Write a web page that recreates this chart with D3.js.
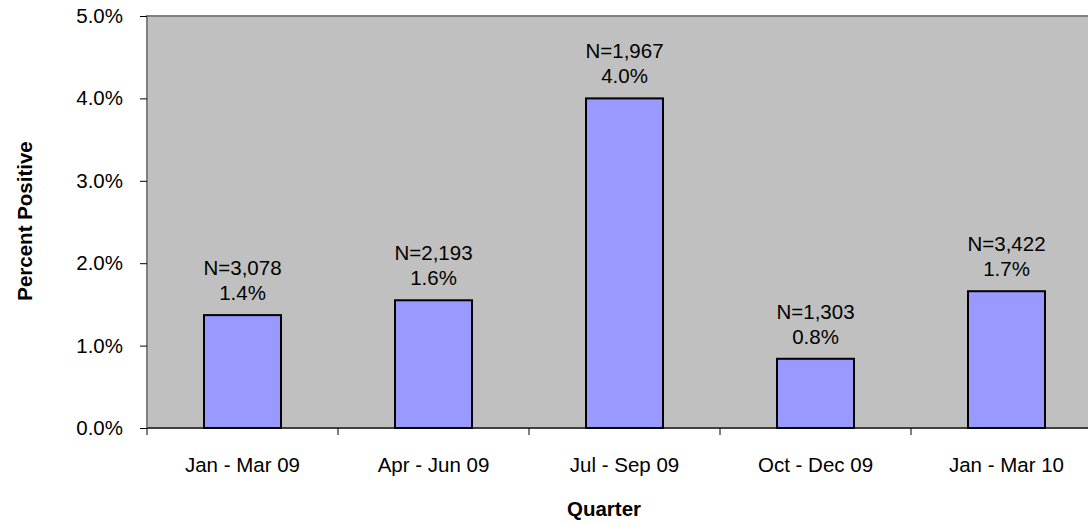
<!DOCTYPE html>
<html>
<head>
  <meta charset="UTF-8">
  <style>
    body { margin: 0; background: #fff; overflow: hidden; }
    text { font-family: "Liberation Sans", Arial, sans-serif; fill: #000; }
  </style>
</head>
<body>
<svg></svg>
<script src="https://d3js.org/d3.v7.min.js"></script>
<script>

    let width = 1088;
    let height = 523;

    // data
    let quarters = ["Jan - Mar 09", "Apr - Jun 09", "Jul - Sep 09", "Oct - Dec 09", "Jan - Mar 10"];
    let percents = [1.37, 1.55, 4.0, 0.84, 1.66];
    let pctLabels = ["1.4%", "1.6%", "4.0%", "0.8%", "1.7%"];
    let counts = ["3,078", "2,193", "1,967", "1,303", "3,422"];
    let yTicks = [0, 1, 2, 3, 4, 5];

    // plot area runs a little past the right edge of the picture
    let plotLeft = 147, plotRight = 1102, plotTop = 16, plotBottom = 428;
    let fs = "20.5px";

    let svg = d3.select("svg")
        .attr("width", width)
        .attr("height", height);

    let x = d3.scaleBand()
        .domain(quarters)
        .range([plotLeft, plotRight]);

    let y = d3.scaleLinear()
        .domain([0, 5])
        .range([plotBottom, plotTop]);

    // plot area
    svg.append("rect")
        .attr("x", plotLeft)
        .attr("y", plotTop)
        .attr("width", plotRight - plotLeft)
        .attr("height", plotBottom - plotTop)
        .attr("fill", "#c0c0c0")
        .attr("stroke", "#808080")
        .attr("stroke-width", 2);

    let barW = 77;
    svg.append("g")
        .selectAll("rect")
        .data(percents)
        .enter()
        .append("rect")
          .attr("x", (d, i) => x(quarters[i]) + x.bandwidth() / 2 - barW / 2)
          .attr("y", d => y(d))
          .attr("width", barW)
          .attr("height", d => y(0) - y(d))
          .attr("fill", "#9999ff")
          .attr("stroke", "#000")
          .attr("stroke-width", 2);

    // data labels
    let lab = svg.append("g")
        .selectAll("g")
        .data(percents)
        .enter()
        .append("g")
        .attr("transform", (d, i) => "translate(" + (x(quarters[i]) + x.bandwidth() / 2) + "," + y(d) + ")");
    lab.append("text")
        .attr("text-anchor", "middle")
        .attr("y", -40)
        .style("font-size", fs)
        .text((d, i) => "N=" + counts[i]);
    lab.append("text")
        .attr("text-anchor", "middle")
        .attr("y", -15)
        .style("font-size", fs)
        .text((d, i) => pctLabels[i]);

    // y axis
    let yAxis = svg.append("g")
        .attr("transform", "translate(" + plotLeft + ",0)")
        .call(d3.axisLeft(y).tickValues(yTicks).tickFormat(d => d.toFixed(1) + "%").tickSize(7).tickPadding(17));
    yAxis.select(".domain").remove();
    yAxis.selectAll("line").attr("stroke", "#000");
    yAxis.selectAll("text").style("font-size", fs).attr("fill", "#000")
        .style("font-family", "'Liberation Sans', Arial, sans-serif");

    // x axis line and ticks between categories
    svg.append("line")
        .attr("x1", plotLeft).attr("x2", plotRight)
        .attr("y1", y(0)).attr("y2", y(0))
        .attr("stroke", "#000").attr("stroke-width", 1);

    let bounds = quarters.map(q => x(q)).concat([plotRight]);
    svg.append("g")
        .selectAll("line")
        .data(bounds)
        .enter()
        .append("line")
          .attr("x1", d => d).attr("x2", d => d)
          .attr("y1", y(0)).attr("y2", y(0) + 7)
          .attr("stroke", "#000");

    svg.append("g")
        .selectAll("text")
        .data(quarters)
        .enter()
        .append("text")
          .attr("x", d => x(d) + x.bandwidth() / 2)
          .attr("y", 472)
          .attr("text-anchor", "middle")
          .style("font-size", fs)
          .text(d => d);

    // axis titles
    svg.append("text")
        .attr("x", 604)
        .attr("y", 516)
        .attr("text-anchor", "middle")
        .style("font-size", fs)
        .style("font-weight", "bold")
        .text("Quarter");

    svg.append("text")
        .attr("transform", "translate(32,221) rotate(-90)")
        .attr("text-anchor", "middle")
        .style("font-size", fs)
        .style("font-weight", "bold")
        .text("Percent Positive");

</script>
</body>
</html>
